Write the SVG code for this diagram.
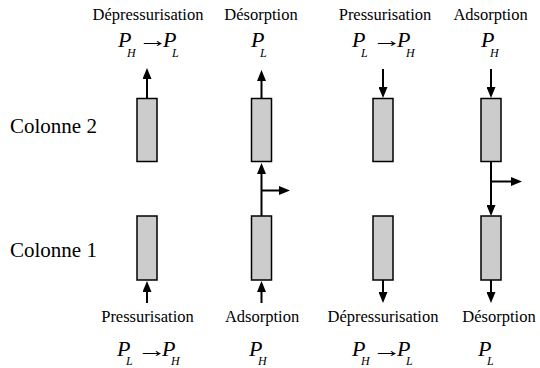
<svg xmlns="http://www.w3.org/2000/svg" width="540" height="368" viewBox="0 0 540 368">
<style>
text{font-family:'Liberation Serif','Times New Roman',serif}
.lbl{font-size:16.5px;fill:#000;text-anchor:middle}
.col{font-size:21px;fill:#000}
.f{font-size:22px;font-style:italic;fill:#000}
.s{font-size:12px}
.ar{font-size:22px;fill:#000}
.bed{fill:#cccccc;stroke:#000;stroke-width:1.5}
.cn{stroke:#000;stroke-width:2;fill:none;marker-end:url(#ah)}
</style>
<defs>
<marker id="ah" viewBox="0 0 11 9" markerWidth="11" markerHeight="9" refX="3" refY="4.5" orient="auto" markerUnits="userSpaceOnUse">
<path d="M0,0 L11,4.5 L0,9 z" fill="#000"/>
</marker>
</defs>
<g id="labels">
<text class="col" x="10" y="133">Colonne 2</text>
<text class="col" x="10" y="257">Colonne 1</text>
<text class="lbl" x="148" y="20">Dépressurisation</text>
<text class="lbl" x="261" y="20">Désorption</text>
<text class="lbl" x="385" y="20">Pressurisation</text>
<text class="lbl" x="490.5" y="20">Adsorption</text>
<text class="lbl" x="147.5" y="322">Pressurisation</text>
<text class="lbl" x="262" y="322">Adsorption</text>
<text class="lbl" x="383" y="322">Dépressurisation</text>
<text class="lbl" x="499" y="322">Désorption</text>
</g>
<g id="formulas">
<text class="f"><tspan x="118" y="46.5">P</tspan><tspan class="s" x="127" y="57">H</tspan><tspan x="163" y="46.5">P</tspan><tspan class="s" x="172" y="57">L</tspan></text>
<text class="ar" x="138" y="47" textLength="30" lengthAdjust="spacingAndGlyphs">→</text>
<text class="f"><tspan x="251" y="46.5">P</tspan><tspan class="s" x="260" y="57">L</tspan></text>
<text class="f"><tspan x="352" y="46.5">P</tspan><tspan class="s" x="361" y="57">L</tspan><tspan x="397" y="46.5">P</tspan><tspan class="s" x="406" y="57">H</tspan></text>
<text class="ar" x="372" y="47" textLength="30" lengthAdjust="spacingAndGlyphs">→</text>
<text class="f"><tspan x="481" y="46.5">P</tspan><tspan class="s" x="490" y="57">H</tspan></text>
<text class="f"><tspan x="117" y="356">P</tspan><tspan class="s" x="126" y="365">L</tspan><tspan x="162" y="356">P</tspan><tspan class="s" x="171" y="365">H</tspan></text>
<text class="ar" x="137" y="356.5" textLength="30" lengthAdjust="spacingAndGlyphs">→</text>
<text class="f"><tspan x="249" y="356">P</tspan><tspan class="s" x="258" y="365">H</tspan></text>
<text class="f"><tspan x="352" y="356">P</tspan><tspan class="s" x="361" y="365">H</tspan><tspan x="397" y="356">P</tspan><tspan class="s" x="406" y="365">L</tspan></text>
<text class="ar" x="372" y="356.5" textLength="30" lengthAdjust="spacingAndGlyphs">→</text>
<text class="f"><tspan x="478" y="356">P</tspan><tspan class="s" x="487" y="365">L</tspan></text>
</g>
<g id="col2-a"><rect class="bed" x="137" y="98.5" width="20" height="63"/></g>
<g id="col2-b"><rect class="bed" x="251.5" y="98.5" width="20" height="63"/></g>
<g id="col2-c"><rect class="bed" x="373" y="98.5" width="20" height="63"/></g>
<g id="col2-d"><rect class="bed" x="481" y="98.5" width="20" height="63"/></g>
<g id="col1-a"><rect class="bed" x="137" y="216" width="20" height="64"/></g>
<g id="col1-b"><rect class="bed" x="251.5" y="216" width="20" height="64"/></g>
<g id="col1-c"><rect class="bed" x="373" y="216" width="20" height="64"/></g>
<g id="col1-d"><rect class="bed" x="481" y="216" width="20" height="64"/></g>
<g id="connectors">
<line class="cn" x1="147" y1="98.5" x2="147" y2="76"/>
<line class="cn" x1="261.5" y1="98.5" x2="261.5" y2="78"/>
<line class="cn" x1="261.5" y1="216" x2="261.5" y2="171"/>
<line class="cn" x1="261.5" y1="190.5" x2="282" y2="190.5"/>
<line class="cn" x1="383" y1="69" x2="383" y2="90"/>
<line class="cn" x1="491" y1="69" x2="491" y2="90"/>
<line class="cn" x1="491" y1="161.5" x2="491" y2="208"/>
<line class="cn" x1="491" y1="181.5" x2="514" y2="181.5"/>
<line class="cn" x1="147" y1="303" x2="147" y2="289"/>
<line class="cn" x1="261.5" y1="303" x2="261.5" y2="289"/>
<line class="cn" x1="383" y1="280" x2="383" y2="295"/>
<line class="cn" x1="491" y1="280" x2="491" y2="295"/>
</g>
</svg>
